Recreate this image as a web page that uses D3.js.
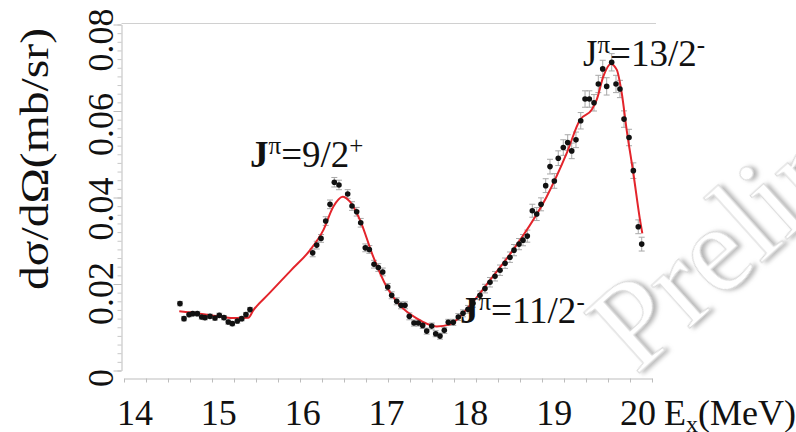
<!DOCTYPE html>
<html>
<head>
<meta charset="utf-8">
<script src="https://cdn.jsdelivr.net/npm/d3@7"></script>
<style>
  html, body { margin: 0; padding: 0; background: #fff; }
  svg { display: block; }
</style>
</head>
<body>
<svg id="chart" width="796" height="432"></svg>
<script>
/* ── measured points: excitation energy (MeV), dσ/dΩ (mb/sr), error ── */
const energy = [
  14.636, 14.682, 14.739, 14.781, 14.833, 14.883, 14.920, 14.977, 15.034, 15.083,
  15.136, 15.185, 15.231, 15.288, 15.338, 15.386, 15.432,
  16.144, 16.190, 16.239, 16.292, 16.341, 16.390, 16.443, 16.542, 16.591, 16.644,
  16.690, 16.742, 16.788, 16.841, 16.890, 16.940, 16.997, 17.042, 17.099, 17.148,
  17.193, 17.242, 17.295, 17.344, 17.394, 17.440, 17.497, 17.542, 17.591, 17.640,
  17.685, 17.742, 17.799,
  17.852, 17.909, 17.966, 18.045, 18.102, 18.159, 18.216, 18.273, 18.330, 18.386,
  18.432, 18.489, 18.534, 18.583, 18.640, 18.690, 18.739, 18.792, 18.841, 18.890,
  18.935, 18.992, 19.042, 19.088, 19.136, 19.190, 19.239, 19.288, 19.341, 19.390,
  19.440, 19.485, 19.542, 19.591, 19.636, 19.682, 19.739, 19.788, 19.844, 19.883
];
const xsec = [
  0.01547, 0.01199, 0.01292, 0.01315, 0.01315, 0.01236, 0.01222, 0.01252, 0.01213, 0.01275,
  0.01222, 0.01120, 0.01083, 0.01143, 0.01199, 0.01292, 0.01408,
  0.02720, 0.02899, 0.03054, 0.03455, 0.03842, 0.04353, 0.04290, 0.04081, 0.03803, 0.03671,
  0.03416, 0.02836, 0.02799, 0.02458, 0.02381, 0.02279, 0.01932, 0.01739, 0.01600, 0.01507,
  0.01507, 0.01252, 0.01097, 0.01097, 0.01043, 0.00911, 0.01027, 0.00851, 0.00795, 0.00928,
  0.01113, 0.01113, 0.01236,
  0.01322, 0.01414, 0.01554, 0.01739, 0.01894, 0.02041, 0.02180, 0.02319, 0.02481, 0.02620,
  0.02783, 0.02922, 0.03014, 0.03107, 0.03694, 0.03617, 0.03842, 0.04274, 0.04714, 0.04383,
  0.04909, 0.05155, 0.05271, 0.05078, 0.05333, 0.05774, 0.06277, 0.06277, 0.06190, 0.06625,
  0.06973, 0.06569, 0.07126, 0.06625, 0.06509, 0.05813, 0.05387, 0.04621, 0.03323, 0.02922
];
const xsecErr = [
  0.0005, 0.0005, 0.0005, 0.0005, 0.0005, 0.0005, 0.0005, 0.0005, 0.0005, 0.0005,
  0.0005, 0.0005, 0.0005, 0.0005, 0.0005, 0.0005, 0.0005,
  0.0009, 0.0009, 0.0009, 0.0010, 0.0010, 0.0011, 0.0011, 0.0010, 0.0010, 0.0010,
  0.0010, 0.0009, 0.0009, 0.0009, 0.0009, 0.0009, 0.0008, 0.0008, 0.0008, 0.0008,
  0.0008, 0.0008, 0.0007, 0.0007, 0.0007, 0.0007, 0.0007, 0.0007, 0.0007, 0.0007,
  0.0007, 0.0007, 0.0008,
  0.0008, 0.0009, 0.0009, 0.0010, 0.0010, 0.0011, 0.0011, 0.0012, 0.0012, 0.0012,
  0.0013, 0.0013, 0.0013, 0.0014, 0.0015, 0.0015, 0.0015, 0.0016, 0.0017, 0.0017,
  0.0017, 0.0018, 0.0018, 0.0018, 0.0018, 0.0019, 0.0019, 0.0019, 0.0019, 0.0020,
  0.0020, 0.0020, 0.0020, 0.0020, 0.0020, 0.0019, 0.0019, 0.0018, 0.0016, 0.0016
];

/* ── fit curve ── */
const fitEnergy = [
  14.628, 14.864, 15.053, 15.239, 15.413, 15.469, 15.650, 15.900, 16.114, 16.265,
  16.378, 16.485, 16.568, 16.682, 16.833, 16.985, 17.136, 17.326, 17.553, 17.705,
  17.932, 18.159, 18.500, 18.803, 19.031, 19.182, 19.315, 19.372, 19.447, 19.531,
  19.599, 19.656, 19.712, 19.788, 19.864, 19.890
];
const fitXsec = [
  0.01368, 0.01315, 0.01259, 0.01213, 0.01222, 0.01391, 0.01782, 0.02321, 0.02783, 0.03246,
  0.03787, 0.04019, 0.03903, 0.03478, 0.02627, 0.01932, 0.01507, 0.01206, 0.01020, 0.01067,
  0.01507, 0.02087, 0.03014, 0.04019, 0.05025, 0.05797, 0.06029, 0.06261, 0.06801, 0.07089,
  0.06957, 0.06416, 0.05565, 0.04561, 0.03478, 0.03170
];

/* ── axes ── */
const xTicks      = [14, 15, 16, 17, 18, 19, 20];
const yTicks      = [0, 0.02, 0.04, 0.06, 0.08];
const yTickLabels = ['0', '0.02', '0.04', '0.06', '0.08'];

/* ── level labels (J^π) ── */
const levelSpin   = ['9/2', '11/2', '13/2'];
const levelParity = ['+', '-', '-'];
const levelBoldJ  = [true, true, false];
const levelLabelE = [15.432, 17.818, 19.216];
const levelLabelS = [0.0471, 0.0109, 0.0705];

// no generic fallback: the generic "serif" resolves to DejaVu Serif here
const SERIF = "'Liberation Serif'";

const svg = d3.select('#chart');

const x = d3.scaleLinear().domain([14, 20]).range([124, 652]);
const y = d3.scaleLinear().domain([0, 0.08]).range([370.5, 24.5]);
// tick text sits slightly off the tick marks in the original figure
const xLabel = d3.scaleLinear().domain([14, 20]).range([135, 638]);
const yLabel = d3.scaleLinear().domain([0, 0.08]).range([378, 40]);

/* ── frame top line ── */
svg.append('line')
  .attr('x1', 121.5).attr('x2', 656)
  .attr('y1', 23.5).attr('y2', 23.5)
  .attr('stroke', '#d0d0d0').attr('stroke-width', 1);

/* ── Y axis ── */
const yMinor = d3.range(0, 0.0801, 0.002);
svg.append('g')
  .attr('transform', 'translate(121.5,0)')
  .call(d3.axisLeft(y).tickValues(yMinor).tickSize(4).tickFormat(''))
  .call(ax => ax.select('.domain').remove())
  .call(ax => ax.selectAll('.tick line').attr('stroke', '#c8c8c8'));
svg.append('g')
  .attr('transform', 'translate(121.5,0)')
  .call(d3.axisLeft(y).tickValues(yTicks).tickSize(8).tickSizeOuter(0).tickFormat(''))
  .call(ax => ax.select('.domain').attr('stroke', '#bdbdbd'))
  .call(ax => ax.selectAll('.tick line').attr('stroke', '#bdbdbd'));

svg.append('g')
  .selectAll('text')
  .data(yTicks)
  .join('text')
  .attr('transform', d => `translate(113,${yLabel(d)}) rotate(-90)`)
  .attr('text-anchor', 'middle')
  .style('font-family', SERIF)
  .attr('font-size', 36)
  .attr('fill', '#111')
  .text((d, i) => yTickLabels[i]);

/* ── X axis ── */
const xMinor = d3.range(14, 20.001, 0.25);
svg.append('g')
  .attr('transform', 'translate(0,378.5)')
  .call(d3.axisBottom(x).tickValues(xMinor).tickSize(4).tickSizeOuter(0).tickFormat(''))
  .call(ax => ax.select('.domain').attr('stroke', '#bdbdbd'))
  .call(ax => ax.selectAll('.tick line').attr('stroke', '#bdbdbd'));

svg.append('g')
  .selectAll('text')
  .data(xTicks)
  .join('text')
  .attr('x', d => xLabel(d))
  .attr('y', 425)
  .attr('text-anchor', 'middle')
  .style('font-family', SERIF)
  .attr('font-size', 36)
  .attr('fill', '#111')
  .text(d => d);

/* ── axis titles ── */
const xTitle = svg.append('text')
  .attr('x', 664).attr('y', 425)
  .style('font-family', SERIF)
  .attr('font-size', 36)
  .attr('fill', '#111');
xTitle.append('tspan').text('E');
xTitle.append('tspan').attr('font-size', 24).attr('dy', 7).text('x');
xTitle.append('tspan').attr('dy', -7).text('(MeV)');

svg.append('text')
  .attr('transform', 'translate(48,159) rotate(-90)')
  .attr('text-anchor', 'middle')
  .style('font-family', SERIF)
  .attr('font-size', 40)
  .attr('textLength', 262)
  .attr('lengthAdjust', 'spacingAndGlyphs')
  .attr('fill', '#111')
  .text('dσ/dΩ(mb/sr)');

/* ── error bars ── */
const pts = energy.map((e, i) => ({ e, s: xsec[i], err: xsecErr[i] }));
const gErr = svg.append('g').attr('stroke', '#a8a8a8').attr('stroke-width', 1);
pts.forEach(d => {
  const cx = x(d.e), y0 = y(d.s - d.err), y1 = y(d.s + d.err);
  gErr.append('line').attr('x1', cx).attr('x2', cx).attr('y1', y0).attr('y2', y1);
  gErr.append('line').attr('x1', cx - 3).attr('x2', cx + 3).attr('y1', y0).attr('y2', y0);
  gErr.append('line').attr('x1', cx - 3).attr('x2', cx + 3).attr('y1', y1).attr('y2', y1);
});

/* ── fit curve ── */
const fitPts = fitEnergy.map((e, i) => [x(e), y(fitXsec[i])]);
svg.append('path')
  .attr('d', d3.line().curve(d3.curveMonotoneX)(fitPts))
  .attr('fill', 'none')
  .attr('stroke', '#e3242b')
  .attr('stroke-width', 2);

/* ── points ── */
svg.append('g')
  .selectAll('circle')
  .data(pts)
  .join('circle')
  .attr('cx', d => x(d.e))
  .attr('cy', d => y(d.s))
  .attr('r', 2.8)
  .attr('fill', '#111');

/* ── J^π labels ── */
levelSpin.forEach((spin, i) => {
  const t = svg.append('text')
    .attr('x', x(levelLabelE[i]))
    .attr('y', y(levelLabelS[i]))
    .style('font-family', SERIF)
    .attr('font-size', 37)
    .attr('fill', '#111');
  t.append('tspan').attr('font-weight', levelBoldJ[i] ? 'bold' : 'normal').text('J');
  t.append('tspan').attr('font-size', 25).attr('dy', -13).text('π');
  t.append('tspan').attr('dy', 13).text('=' + spin);
  t.append('tspan').attr('font-size', 25).attr('dy', -13).text(levelParity[i]);
});

/* ── "Preliminary" watermark ── */
const defs = svg.append('defs');
const f = defs.append('filter').attr('id', 'wm-shadow')
  .attr('x', '-20%').attr('y', '-20%').attr('width', '140%').attr('height', '140%');
f.append('feDropShadow')
  .attr('dx', 3).attr('dy', 3).attr('stdDeviation', 2)
  .attr('flood-color', '#777').attr('flood-opacity', 0.55);

svg.append('text')
  .attr('transform', 'translate(636,376) rotate(-42)')
  .style('font-family', SERIF)
  .attr('font-size', 125)
  .attr('fill', '#fff')
  .attr('stroke', '#d8d8d8')
  .attr('stroke-width', 1)
  .attr('filter', 'url(#wm-shadow)')
  .text('Preliminary');
</script>
</body>
</html>
